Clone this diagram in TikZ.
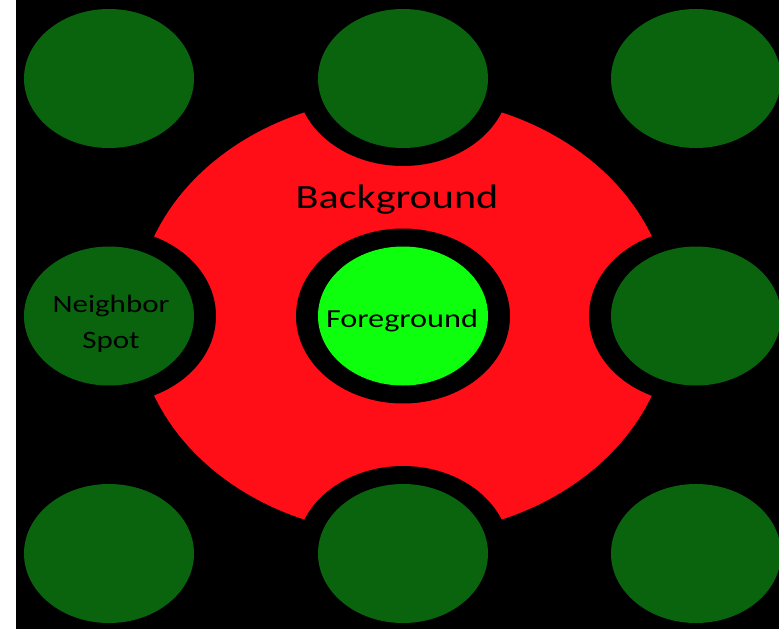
\documentclass[tikz,border=0pt]{standalone}
\usepackage{fontspec}
\setmainfont{Carlito}
\newfontfamily\spotfont[FakeStretch=1.24]{Carlito}
\usepackage{tikz}
\usetikzlibrary{shapes.geometric}
\definecolor{spotgreen}{HTML}{0A640E}
\definecolor{fggreen}{HTML}{0EFF0E}
\definecolor{bgred}{HTML}{FF0E18}

\begin{document}
\begin{tikzpicture}[
    x=1pt, y=-1pt,
    spot/.style={ellipse, fill=#1, minimum width=170pt, minimum height=139pt, inner sep=0pt},
    spot/.default=spotgreen,
    gap/.style={ellipse, fill=black, minimum width=214pt, minimum height=175pt, inner sep=0pt},
    lbl/.style={font=\spotfont\fontsize{#1}{36}\selectfont, text=black, align=center, inner sep=0pt},
    lbl/.default=25
]
\useasboundingbox (0,0) rectangle (779,629);

% black field
\fill[black] (16,0) rectangle (779,629);

% background area round the foreground
\node[ellipse, fill=bgred, minimum width=534pt, minimum height=438pt, inner sep=0pt] (bgarea) at (403,316) {};

% black gaps round every spot
\node[gap] (nwgap) at (109,78.5) {};
\node[gap] (ngap) at (403,78.5) {};
\node[gap] (negap) at (696,78.5) {};
\node[gap] (wgap) at (109,316) {};
\node[gap] (fggap) at (403,316) {};
\node[gap] (egap) at (696,316) {};
\node[gap] (swgap) at (109,553.5) {};
\node[gap] (sgap) at (403,553.5) {};
\node[gap] (segap) at (696,553.5) {};

% spots
\node[spot] (nwspot) at (109,78.5) {};
\node[spot] (nspot) at (403,78.5) {};
\node[spot] (nespot) at (696,78.5) {};
\node[spot] (wspot) at (109,316) {};
\node[spot=fggreen] (fgspot) at (403,316) {};
\node[spot] (espot) at (696,316) {};
\node[spot] (swspot) at (109,553.5) {};
\node[spot] (sspot) at (403,553.5) {};
\node[spot] (sespot) at (696,553.5) {};

% white margin on the left
\fill[white] (0,0) rectangle (16,629);

% labels
\node[lbl=34, anchor=base] (bglabel) at (397,208) {Background};
\node[lbl=26, anchor=base] (fglabel) at (402,327) {Foreground};
\node[lbl=25] (wlabel) at (111,324) {Neighbor\\Spot};

\end{tikzpicture}
\end{document}
